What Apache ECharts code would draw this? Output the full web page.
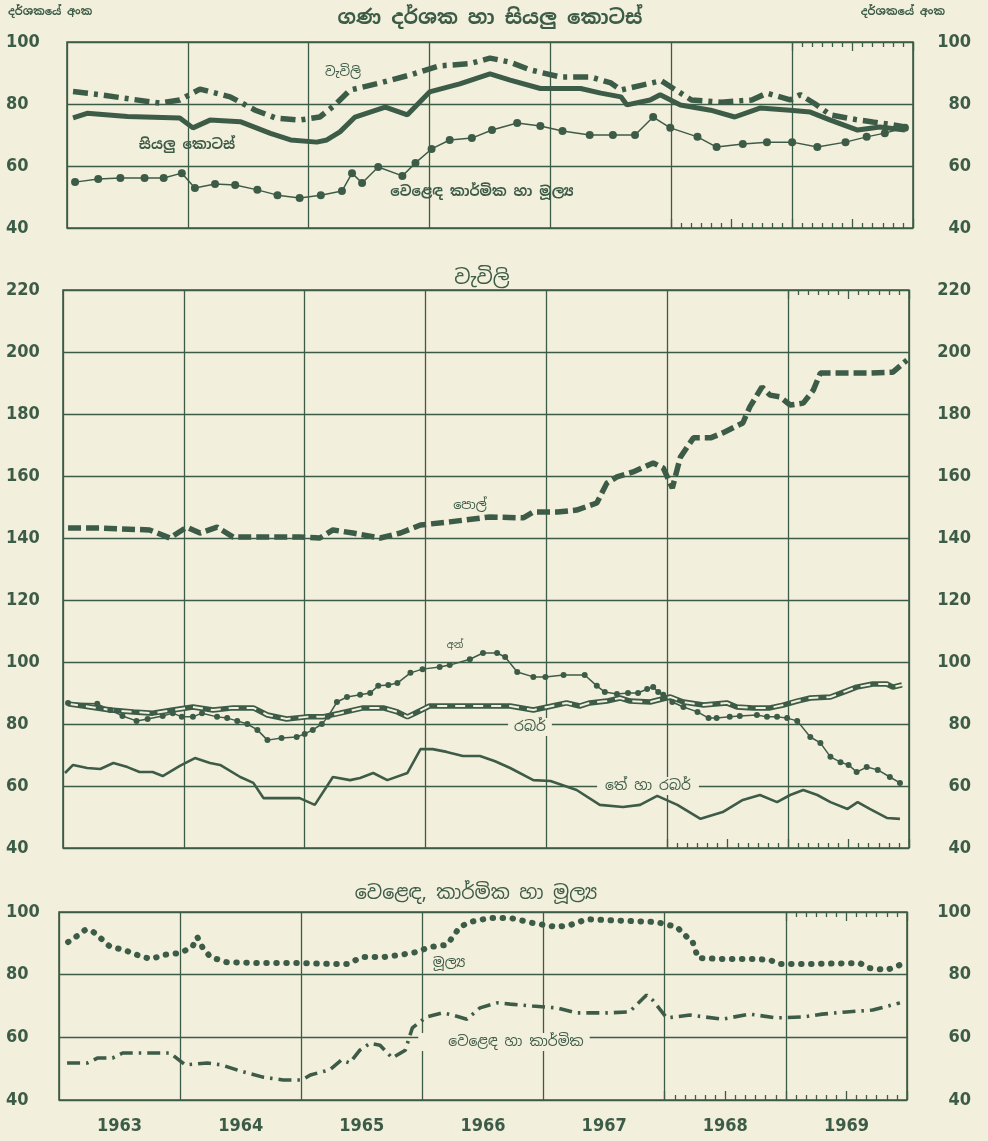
<!DOCTYPE html>
<html>
<head>
<meta charset="utf-8">
<script src="https://cdn.jsdelivr.net/npm/echarts/dist/echarts.min.js"></script>
<style>
  html, body { margin: 0; padding: 0; background: #f2efdc; }
  #chart { width: 988px; height: 1141px; }
</style>
</head>
<body>
<div id="chart"></div>
<script>
// x values are months counted from January 1963 (0) to end of 1969 (84)
const years = ['1963', '1964', '1965', '1966', '1967', '1968', '1969']

// top panel: index numbers and all shares
const allPlantMonths = [0.6, 3.3, 6.3, 9.2, 11.2, 13.2, 16.2, 18.7, 20.7, 23.1, 25.1, 26.6, 28.1, 31.1, 34.1, 37, 40, 42, 44, 46, 49, 52, 54, 55, 57, 59, 62, 65, 68, 69.5, 71.8, 72.8, 74.3, 75.8, 78.3, 80, 81.7, 83.2]
const allPlantValues = [84, 83, 81.6, 80.3, 81.3, 84.8, 82.3, 78, 75.5, 74.8, 75.8, 79.7, 84.5, 86.8, 89.4, 92.3, 93, 94.8, 93.5, 91, 88.7, 88.7, 86.8, 84.5, 86, 87.5, 81.3, 80.6, 81.3, 83.5, 81.3, 83, 80, 76.5, 75, 74.2, 73.5, 72.6]
const allSharesMonths = [0.6, 2, 6, 11.2, 12.5, 14.2, 17.2, 20.2, 22.2, 24.8, 25.8, 27.1, 28.6, 30.1, 31.6, 33.8, 36, 39, 42, 44, 47, 51, 53, 55, 55.6, 57.9, 58.9, 60.9, 63.9, 66.3, 68.8, 71.8, 73.8, 75.8, 78.5, 80.7, 83.2]
const allSharesValues = [75.5, 77, 76, 75.5, 72.3, 74.8, 74.3, 70.5, 68.4, 67.7, 68.4, 71, 75.8, 77.4, 79, 76.5, 83.9, 86.5, 89.7, 87.7, 85, 85, 83.5, 82.3, 79.7, 81.3, 83, 79.7, 78, 75.8, 78.7, 78, 77.4, 74.8, 71.6, 72.6, 71.6]
const allTifMonths = [0.8, 3.1, 5.3, 7.7, 9.6, 11.4, 12.7, 14.7, 16.7, 18.9, 20.9, 23.1, 25.2, 27.3, 28.3, 29.3, 30.9, 33.3, 34.6, 36.2, 38, 40.2, 42.2, 44.7, 47, 49.2, 51.9, 54.2, 56.4, 58.2, 59.9, 62.6, 64.5, 67.1, 69.5, 72, 74.5, 77.3, 79.4, 81.2, 83.2]
const allTifValues = [54.8, 55.8, 56.1, 56.1, 56.1, 57.7, 52.9, 54.2, 53.9, 52.3, 50.6, 49.7, 50.6, 51.9, 57.7, 54.5, 59.7, 56.8, 61, 65.5, 68.4, 69, 71.6, 73.9, 72.9, 71.3, 70, 70, 70, 75.8, 72.3, 69.4, 66.1, 67.1, 67.7, 67.7, 66.1, 67.7, 69.4, 70.6, 72.3]

// middle panel: plantations
const coconutMonths = [0.5, 3.7, 8.6, 10.6, 12.3, 13.6, 15.3, 16.9, 20.3, 23.5, 25.5, 26.8, 28.8, 31.5, 33.5, 35.5, 38.4, 42.4, 45.7, 46.7, 49.1, 51, 53, 54, 55, 56.6, 58.6, 59.6, 60.5, 61.3, 62.6, 64.3, 65.5, 67.5, 68.2, 69.4, 70.2, 71.2, 72.2, 73.5, 74.5, 75.2, 79.8, 82.4, 83.8]
const coconutValues = [143.2, 143.2, 142.6, 140, 143.5, 141.6, 143.5, 140.3, 140.3, 140.3, 140, 142.6, 141.6, 140, 141.6, 144.2, 145.2, 146.8, 146.5, 148.4, 148.4, 149, 151.3, 157.7, 159.7, 161.3, 164.2, 162.6, 156.1, 166.1, 172.3, 172.3, 173.9, 177.1, 182.3, 188.7, 186.1, 185.5, 182.9, 183.5, 187.7, 193.2, 193.2, 193.5, 197.4]
const otherMonths = [0.5, 3.4, 4.7, 5.9, 7.3, 8.4, 9.9, 10.9, 11.8, 12.9, 13.8, 15.3, 16.3, 17.3, 18.3, 19.3, 20.3, 21.7, 23.2, 24, 24.8, 25.7, 26.3, 27.2, 28.2, 29.5, 30.5, 31.3, 32.3, 33.2, 34.5, 35.7, 37.4, 38.4, 40.4, 41.7, 43.1, 43.9, 45.1, 46.7, 47.9, 49.7, 51.8, 53, 53.8, 55, 56.1, 57.1, 58, 58.6, 59.1, 59.6, 60.5, 61.6, 63, 64.1, 64.9, 66.2, 67.2, 68.9, 69.9, 70.9, 71.9, 72.9, 74.2, 75.2, 76.2, 77.2, 78, 78.8, 79.8, 80.9, 82.1, 83.1]
const otherValues = [86.8, 86.5, 84.5, 82.6, 81, 81.6, 82.6, 83.5, 82.3, 82.3, 83.5, 82.3, 81.9, 81, 80, 78.1, 74.8, 75.5, 75.8, 76.8, 78.1, 80, 82.3, 87.1, 88.7, 89.4, 90, 92.3, 92.6, 93.2, 96.5, 97.7, 98.4, 99, 100.9, 102.9, 102.9, 101.6, 96.8, 95.2, 95.2, 95.8, 95.8, 92.3, 90.3, 89.7, 90, 90, 91.3, 91.9, 90.3, 89.4, 87.1, 85.5, 83.9, 81.9, 81.9, 82.3, 82.6, 82.9, 82.3, 82.3, 81.9, 81, 75.8, 73.9, 69.4, 67.7, 66.8, 64.5, 66.1, 65.2, 62.9, 61]
const rubberMonths = [0.5, 2.7, 4.7, 7, 8.9, 10.9, 12.9, 14.9, 16.9, 18.9, 20.3, 22.2, 24.2, 25.8, 27.5, 29.8, 31.8, 33.2, 34.2, 35.2, 36.4, 38.4, 42.7, 44.4, 46.7, 48.1, 50, 51.3, 52.3, 54, 55.3, 56.3, 58.3, 60.3, 61.6, 63.6, 65.9, 66.9, 68.5, 70.2, 71.5, 72.9, 74.2, 76.2, 77.5, 78.8, 80.4, 81.8, 82.4, 83.3]
const rubberValues = [86.5, 85.5, 84.5, 83.9, 83.5, 84.5, 85.5, 84.5, 85.2, 85.2, 82.9, 81.6, 82.3, 82.3, 83.5, 85.2, 85.2, 83.9, 82.3, 83.9, 85.8, 85.8, 85.8, 85.8, 84.5, 85.5, 86.8, 85.8, 86.8, 87.4, 88.4, 87.4, 87.1, 88.7, 87.1, 86.1, 86.8, 85.5, 85.2, 85.2, 86.1, 87.4, 88.4, 88.7, 90.3, 91.9, 92.9, 92.9, 91.9, 92.6]
const teaRubberMonths = [0.2, 1, 2.4, 3.7, 5, 6.4, 7.6, 8.9, 9.9, 11.6, 13.1, 14.6, 15.6, 17.6, 18.9, 19.9, 23.5, 25, 26.8, 28.5, 29.5, 30.8, 32.2, 34.2, 35.5, 36.7, 38.1, 39.7, 41.4, 42.9, 44.4, 46.7, 48.4, 51, 53.3, 55.6, 57.3, 59, 61, 63.3, 65.5, 67.5, 69.2, 70.9, 72.2, 73.5, 74.9, 76.2, 77.9, 78.9, 80.1, 81.8, 83.1]
const teaRubberValues = [64.2, 66.8, 65.8, 65.5, 67.4, 66.1, 64.5, 64.5, 63.2, 66.5, 69, 67.4, 66.8, 62.9, 61, 56.1, 56.1, 53.9, 62.9, 61.9, 62.6, 64.2, 61.9, 64.2, 71.9, 71.9, 71, 69.7, 69.7, 68, 65.8, 61.9, 61.6, 58.7, 53.9, 53.2, 53.9, 56.8, 53.9, 49.4, 51.6, 55.5, 57.1, 54.8, 57.1, 58.7, 57.1, 54.8, 52.6, 54.8, 52.6, 49.7, 49.4]

// bottom panel: trade, industrial and finance
const financeMonths = [0.9, 1.9, 2.6, 3.3, 4.1, 5, 6.7, 8.3, 9.2, 10.3, 12, 13.2, 13.7, 14.2, 15, 16.6, 19.9, 23.9, 27.1, 28.6, 30, 32.1, 33.8, 35.4, 36.7, 38.4, 39, 39.7, 40.7, 42.7, 44.7, 46.9, 49.3, 50.6, 52.3, 54.3, 56.8, 59.2, 61.2, 62.2, 62.7, 63.3, 65.7, 69.1, 70.4, 71.4, 74.1, 79.3, 80.3, 82, 83.3]
const financeValues = [90.4, 92.6, 94.3, 93.9, 91.7, 89.1, 87.6, 85.6, 85, 86.3, 86.9, 88.8, 92, 88.8, 85.6, 84, 83.7, 83.7, 83.4, 83.4, 85.6, 85.6, 86.3, 87.2, 88.8, 89.5, 92, 95.2, 96.8, 98.1, 98.1, 96.5, 95.2, 95.8, 97.7, 97.4, 97.1, 96.8, 95.2, 92, 91.1, 85.3, 85, 85, 84.7, 83.4, 83.4, 83.7, 82.1, 81.5, 83.1]
const tradeIndMonths = [0.8, 2.8, 3.8, 5.3, 6.3, 8.7, 11, 12.5, 14.7, 16.1, 17.9, 20.2, 22.2, 24.1, 24.9, 26.8, 28, 28.8, 29.8, 30.8, 31.8, 33, 34.3, 35, 36.4, 38, 39, 40.4, 41.7, 43.4, 44.7, 46.9, 49.3, 51.3, 54.3, 56.5, 58.2, 58.8, 60.2, 62.5, 65.7, 68.4, 71.1, 73.7, 75.6, 78, 80.6, 83.3]
const tradeIndValues = [51.8, 51.8, 53.4, 53.4, 55, 55, 55, 51.2, 51.8, 51.2, 49.3, 47.3, 46.4, 46.4, 48, 49.6, 52.8, 51.8, 55.9, 58.1, 57.5, 53.4, 55.9, 63, 66.5, 67.8, 67.1, 65.8, 69.4, 71, 70.6, 70, 69.4, 67.8, 67.8, 68.1, 73.5, 71.9, 66.2, 67.1, 65.8, 67.4, 66.2, 66.5, 67.4, 68.1, 68.7, 71]

const ink = '#3d5c47'
const paper = '#f2efdc'
const numFont = "'DejaVu Sans Condensed', 'DejaVu Sans', sans-serif"
const sinFont = "'Noto Sans Sinhala', 'Noto Serif Sinhala', 'Noto Sans', sans-serif"

const pairs = (xs, ys) => xs.map((x, i) => [x, ys[i]])

// panel frames in pixels
const panels = [
  { left: 67, right: 913, top: 42, bottom: 228, min: 40, max: 100 },
  { left: 63, right: 909, top: 290, bottom: 848, min: 40, max: 220 },
  { left: 59, right: 907, top: 912, bottom: 1100, min: 40, max: 100 }
]

const grid = []
const xAxis = []
const yAxis = []

panels.forEach((p) => {
  grid.push({
    left: p.left, width: p.right - p.left, top: p.top, height: p.bottom - p.top,
    show: true, borderColor: ink, borderWidth: 1.6, backgroundColor: 'transparent'
  })
})
panels.forEach((p, i) => {
  xAxis.push({
    type: 'value', gridIndex: i, min: 0, max: 84, interval: 12,
    axisLine: { show: false }, axisTick: { show: false }, axisLabel: { show: false },
    splitLine: { show: true, lineStyle: { color: ink, width: 1.3 } }
  })
  yAxis.push({
    type: 'value', gridIndex: i, position: 'left', min: p.min, max: p.max, interval: 20,
    axisLine: { show: false }, axisTick: { show: false },
    axisLabel: { align: 'left', margin: p.left - 6, color: ink, fontSize: 18, fontWeight: 'bold', fontFamily: numFont },
    splitLine: { show: true, lineStyle: { color: ink, width: 1.3 } }
  })
  yAxis.push({
    type: 'value', gridIndex: i, position: 'right', min: p.min, max: p.max, interval: 20,
    axisLine: { show: false }, axisTick: { show: false },
    axisLabel: { align: 'right', margin: 971 - p.right, color: ink, fontSize: 18, fontWeight: 'bold', fontFamily: numFont },
    splitLine: { show: false }
  })
})
// year labels under the bottom panel
xAxis.push({
  type: 'category', gridIndex: 2, position: 'bottom', data: years, boundaryGap: true,
  axisLine: { show: false }, axisTick: { show: false }, splitLine: { show: false },
  axisLabel: { margin: 17, color: ink, fontSize: 18, fontWeight: 'bold', fontFamily: numFont }
})

// monthly ticks: 1968-69 along the bottom, 1969 along the top
panels.forEach((p) => {
  const w = p.right - p.left
  const parts = [
    { from: 60, pos: 'bottom' },
    { from: 72, pos: 'top' }
  ]
  parts.forEach((t) => {
    const gi = grid.length
    grid.push({ left: p.left + w * t.from / 84, width: w * (84 - t.from) / 84, top: p.top, height: p.bottom - p.top })
    xAxis.push({
      type: 'value', gridIndex: gi, position: t.pos, min: t.from, max: 84, interval: 6,
      axisLine: { show: false, onZero: false }, axisLabel: { show: false }, splitLine: { show: false },
      axisTick: { show: true, inside: true, length: 9, lineStyle: { color: ink, width: 1.3 } },
      minorTick: { show: true, splitNumber: 6, length: 5, lineStyle: { color: ink, width: 1.3 } }
    })
    yAxis.push({ type: 'value', gridIndex: gi, min: 0, max: 1, show: false })
  })
})

const line = (x, y, data, style, extra) => Object.assign({
  type: 'line', xAxisIndex: x, yAxisIndex: y, data: data,
  showSymbol: false, symbol: 'none', silent: true,
  lineStyle: Object.assign({ color: ink }, style)
}, extra || {})

const series = [
  // top
  line(0, 0, pairs(allPlantMonths, allPlantValues), { width: 5.5, type: [15, 6, 4, 6] }),
  line(0, 0, pairs(allSharesMonths, allSharesValues), { width: 5 }),
  line(0, 0, pairs(allTifMonths, allTifValues), { width: 1.5 },
    { showSymbol: true, symbol: 'circle', symbolSize: 8, itemStyle: { color: ink } }),
  // middle
  line(1, 2, pairs(coconutMonths, coconutValues), { width: 5.5, type: [13, 5] }),
  line(1, 2, pairs(otherMonths, otherValues), { width: 1.5 },
    { showSymbol: true, symbol: 'circle', symbolSize: 6, itemStyle: { color: ink } }),
  line(1, 2, pairs(rubberMonths, rubberValues), { width: 5.5 }),
  line(1, 2, pairs(rubberMonths, rubberValues), { width: 2, color: paper, type: [10, 8] }),
  line(1, 2, pairs(teaRubberMonths, teaRubberValues), { width: 2.6 }),
  // bottom
  line(2, 4, pairs(financeMonths, financeValues), { width: 6, type: [0.5, 9.5], cap: 'round' }),
  line(2, 4, pairs(tradeIndMonths, tradeIndValues), { width: 3.6, type: [13, 6, 2.5, 6] })
]

const txt = (text, x, y, size, opts) => ({
  type: 'text', x: x, y: y, z: 1, silent: true,
  style: Object.assign({
    text: text, fill: ink, fontSize: size, fontFamily: sinFont,
    align: 'center', verticalAlign: 'middle'
  }, opts || {})
})
const masked = { backgroundColor: paper, padding: [2, 6] }

const graphic = [
  txt('දර්ශකයේ අංක', 8, 12, 11, { align: 'left', fontWeight: 'bold' }),
  txt('දර්ශකයේ අංක', 945, 12, 11, { align: 'right', fontWeight: 'bold' }),
  txt('ගණ දර්ශක හා සියලු කොටස්', 490, 18, 20, { fontWeight: 'bold' }),
  txt('වැවිලි', 343, 72, 13),
  txt('සියලු කොටස්', 187, 145, 14, { fontWeight: 'bold' }),
  txt('වෙළෙඳ කාර්මික හා මූල්‍ය', 482, 192, 14, { fontWeight: 'bold' }),
  txt('වැවිලි', 482, 278, 20),
  txt('පොල්', 470, 505, 13),
  txt('අන්', 455, 645, 10),
  txt('රබර්', 530, 727, 14, masked),
  txt('තේ හා රබර්', 648, 786, 14, { backgroundColor: paper, padding: [2, 8] }),
  txt('වෙළෙඳ, කාර්මික හා මූල්‍ය', 476, 894, 19),
  txt('මූල්‍ය', 449, 963, 14),
  txt('වෙළෙඳ හා කාර්මික', 504, 1042, 14, { backgroundColor: paper, padding: [2, 6, 2, 30] })
]

const chart = echarts.init(document.getElementById('chart'))
chart.setOption({
  backgroundColor: paper,
  animation: false,
  grid: grid,
  xAxis: xAxis,
  yAxis: yAxis,
  series: series,
  graphic: graphic
})
</script>
</body>
</html>
